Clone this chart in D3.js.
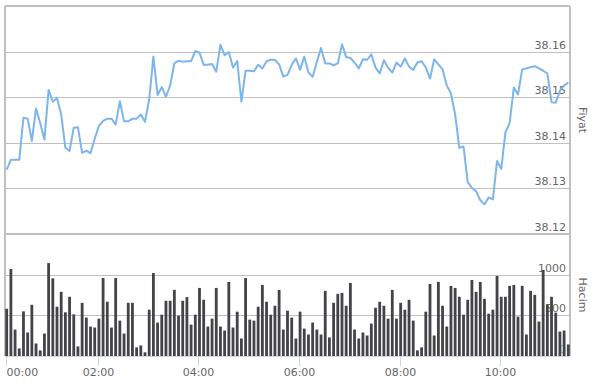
<!DOCTYPE html>
<html>
<head>
<meta charset="utf-8">
<script src="https://cdn.jsdelivr.net/npm/d3@7"></script>
<style>
  body { margin: 0; background: #fff; }
  text { font-family: "Lucida Grande", "Lucida Sans Unicode", "DejaVu Sans", sans-serif; }
</style>
</head>
<body>
<svg id="main_svg" width="594" height="384"></svg>
<script>
// price (Fiyat) every 5 minutes, ordinal spacing
let prices = [
  38.1341, 38.1363, 38.1363, 38.1363, 38.1455, 38.1453, 38.1404, 38.1475, 38.1443, 38.1407,
  38.1516, 38.1490, 38.1498, 38.1462, 38.1389, 38.1382, 38.1433, 38.1434, 38.1378, 38.1383,
  38.1377, 38.1409, 38.1437, 38.1448, 38.1453, 38.1453, 38.1440, 38.1491, 38.1447, 38.1447,
  38.1453, 38.1453, 38.1462, 38.1446, 38.1495, 38.1589, 38.1505, 38.1522, 38.1501, 38.1526,
  38.1574, 38.1580, 38.1578, 38.1579, 38.1579, 38.1601, 38.1598,
  38.1571, 38.1571, 38.1573, 38.1556, 38.1615, 38.1592, 38.1599, 38.1565, 38.1579, 38.1490,
  38.1558, 38.1558, 38.1557, 38.1571, 38.1563, 38.1579, 38.1582, 38.1582, 38.1572, 38.1545,
  38.1549, 38.1571, 38.1585, 38.1560, 38.1589, 38.1554, 38.1545, 38.1577, 38.1608, 38.1574,
  38.1574, 38.1570, 38.1574, 38.1616, 38.1588, 38.1586, 38.1576, 38.1563, 38.1583, 38.1582,
  38.1594, 38.1565, 38.1552, 38.1581, 38.1565, 38.1554, 38.1576,
  38.1567, 38.1585, 38.1567, 38.1560, 38.1576, 38.1579, 38.1565, 38.1541, 38.1583, 38.1572,
  38.1561, 38.1526, 38.1508, 38.1462, 38.1389, 38.1392, 38.1314, 38.1301, 38.1294, 38.1274,
  38.1265, 38.1280, 38.1276, 38.1360, 38.1343, 38.1423, 38.1443, 38.1521, 38.1506, 38.1561,
  38.1563, 38.1566, 38.1568, 38.1563, 38.1558, 38.1552, 38.1489, 38.1488, 38.1514, 38.1526,
  38.1532
];

// volume (Hacim)
let volumes = [
  581, 1069, 325, 93, 549, 289, 630, 154, 69, 276, 1142, 955, 606, 789, 537, 728, 512, 118,
  654, 472, 362, 350, 459, 959, 667, 350, 959, 435, 276, 654, 654, 106, 130, 45, 569, 1020,
  411, 508, 679, 679, 813, 496, 679, 724, 386, 508, 837,
  691, 362, 459, 837, 362, 313, 911, 350, 545, 215, 959, 447, 435, 606, 874, 667, 508, 618,
  813, 325, 557, 472, 215, 545, 337, 264, 411, 325, 264, 801, 228, 654, 764, 776, 618, 898,
  325, 215, 289, 252, 398, 593, 667, 618, 459, 813, 459,
  654,
  569, 691, 435, 69, 106, 545, 886, 252, 911, 618, 362, 862, 837, 728, 508, 691, 935, 789,
  911, 703, 520, 569, 984, 728, 728, 862, 874, 484, 862, 264, 801, 752, 423, 1057, 630, 728,
  533, 301, 313, 142
];

let x_tick_labels = ['00:00', '02:00', '04:00', '06:00', '08:00', '10:00'];
let x_tick_index = [0, 22, 46, 70, 94, 118];
let price_ticks = [38.12, 38.13, 38.14, 38.15, 38.16];
let volume_ticks = [0, 500, 1000];

let svg = d3.select('#main_svg');

let plot = { left: 5, right: 570, top: 6, split: 234, bottom: 356 };

let x_scale = d3.scaleLinear()
  .domain([0, prices.length - 1])
  .range([6.7, 568.3]);

let price_scale = d3.scaleLinear()
  .domain([38.12, 38.17])
  .range([plot.split, plot.top]);

let volume_scale = d3.scaleLinear()
  .domain([0, 1500])
  .range([plot.bottom, plot.split]);

let grid_color = '#c0c0c0';
let label_color = '#666666';

// gridlines
svg.append('g')
  .selectAll('line')
  .data(price_ticks.slice(1))
  .enter()
  .append('line')
  .attr('x1', plot.left)
  .attr('x2', plot.right)
  .attr('y1', d => Math.round(price_scale(d)) + 0.5)
  .attr('y2', d => Math.round(price_scale(d)) + 0.5)
  .style('stroke', grid_color)
  .style('stroke-width', 1);

svg.append('g')
  .selectAll('line')
  .data(volume_ticks.slice(1))
  .enter()
  .append('line')
  .attr('x1', plot.left)
  .attr('x2', plot.right)
  .attr('y1', d => Math.round(volume_scale(d)) + 0.5)
  .attr('y2', d => Math.round(volume_scale(d)) + 0.5)
  .style('stroke', grid_color)
  .style('stroke-width', 1);

// borders
let borders = [
  [plot.left, plot.top, plot.right, plot.top],
  [plot.left, plot.split, plot.right, plot.split],
  [plot.left, plot.top, plot.left, plot.bottom],
  [plot.right, plot.top, plot.right, plot.bottom]
];
svg.append('g')
  .selectAll('line')
  .data(borders)
  .enter()
  .append('line')
  .attr('x1', d => d[0])
  .attr('y1', d => d[1])
  .attr('x2', d => d[2])
  .attr('y2', d => d[3])
  .style('stroke', grid_color)
  .style('stroke-width', 2);

// y labels (drawn under the marks)
svg.append('g')
  .selectAll('text')
  .data(price_ticks)
  .enter()
  .append('text')
  .attr('x', 566)
  .attr('y', d => price_scale(d) - 3)
  .attr('text-anchor', 'end')
  .style('font-size', '11px')
  .style('fill', label_color)
  .text(d => d3.format('.2f')(d));

svg.append('g')
  .selectAll('text')
  .data(volume_ticks)
  .enter()
  .append('text')
  .attr('x', 566)
  .attr('y', d => volume_scale(d) - 3)
  .attr('text-anchor', 'end')
  .style('font-size', '11px')
  .style('fill', d => d === 0 ? '#8fb8e0' : label_color)
  .text(d => d);

// axis titles
svg.append('text')
  .attr('transform', 'translate(579,' + (plot.top + plot.split) / 2 + ') rotate(90)')
  .attr('text-anchor', 'middle')
  .style('font-size', '11px')
  .style('fill', label_color)
  .text('Fiyat');

svg.append('text')
  .attr('transform', 'translate(579,' + (plot.split + plot.bottom) / 2 + ') rotate(90)')
  .attr('text-anchor', 'middle')
  .style('font-size', '11px')
  .style('fill', label_color)
  .text('Hacim');

// volume bars
let bar_w = 2.8;
svg.append('g')
  .selectAll('rect')
  .data(volumes)
  .enter()
  .append('rect')
  .attr('x', (d, i) => x_scale(i) - bar_w / 2)
  .attr('y', d => volume_scale(d))
  .attr('width', bar_w)
  .attr('height', d => plot.bottom - volume_scale(d))
  .style('fill', '#434348');

// price line
let line = d3.line()
  .x((d, i) => x_scale(i))
  .y(d => price_scale(d));

svg.append('path')
  .datum(prices)
  .attr('d', line)
  .style('fill', 'none')
  .style('stroke', '#7cb5ec')
  .style('stroke-width', 2)
  .style('stroke-linejoin', 'round');

// x axis
let axis_color = '#ccd6eb';
svg.append('line')
  .attr('x1', plot.left)
  .attr('x2', plot.right)
  .attr('y1', plot.bottom + 0.5)
  .attr('y2', plot.bottom + 0.5)
  .style('stroke', axis_color);

let ticks = svg.append('g')
  .selectAll('g')
  .data(x_tick_index)
  .enter()
  .append('g')
  .attr('transform', d => 'translate(' + (Math.round(x_scale(d)) - 0.5) + ',0)');

ticks.append('line')
  .attr('y1', plot.bottom)
  .attr('y2', plot.bottom + 10)
  .style('stroke', axis_color);

ticks.append('text')
  .attr('y', 376)
  .attr('text-anchor', (d, i) => i === 0 ? 'start' : 'middle')
  .style('font-size', '11px')
  .style('fill', label_color)
  .text((d, i) => x_tick_labels[i]);
</script>
</body>
</html>
